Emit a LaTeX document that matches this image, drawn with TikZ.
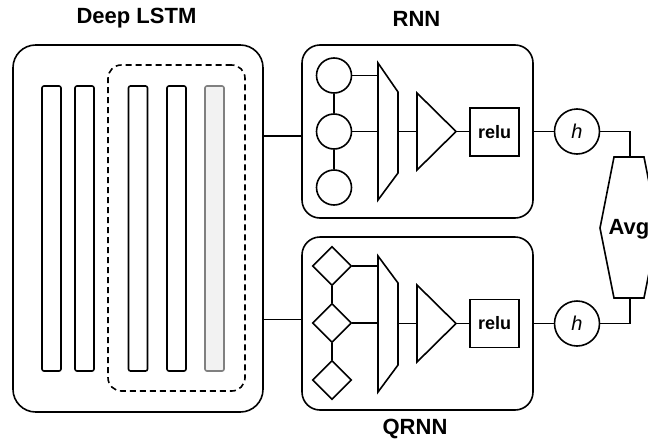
\documentclass[tikz,border=0pt]{standalone}
\usepackage{fontspec}
\setmainfont{Liberation Sans}
\usetikzlibrary{shapes.geometric}
\definecolor{barfill}{HTML}{F2F2F2}
\definecolor{bargray}{HTML}{808080}
\begin{document}
\begin{tikzpicture}[x=0.75pt,y=-0.75pt,line width=1.2pt,
  title/.style={font=\bfseries\fontsize{16.5pt}{18pt}\selectfont,inner sep=0pt},
  bigbox/.style={draw,rounded corners=13.5pt,minimum width=231*0.75pt,minimum height=173*0.75pt,inner sep=0pt},
  bar/.style={draw,rounded corners=1.5pt,minimum width=19*0.75pt,minimum height=285*0.75pt,inner sep=0pt},
  unit/.style={draw,circle,minimum size=35*0.75pt,inner sep=0pt},
  qunit/.style={draw,diamond,minimum width=39*0.75pt,minimum height=39*0.75pt,inner sep=0pt},
  relubox/.style={draw,minimum width=49*0.75pt,minimum height=48*0.75pt,inner sep=0pt,font=\bfseries\fontsize{13.5pt}{15pt}\selectfont},
  hnode/.style={draw,circle,minimum size=45*0.75pt,inner sep=0pt,font=\itshape\fontsize{15pt}{17pt}\selectfont},
  conn/.style={line width=1.2pt}]
\useasboundingbox (0,0) rectangle (648,439);
\clip (0,0) rectangle (648,439);
% titles
\node[title] (tl) at (136.5,18.5) {Deep LSTM};
\node[title] (tr) at (416.5,18.5) {RNN};
\node[title] (tq) at (415,429) {QRNN};
% Deep LSTM
\node[draw,rounded corners=17pt,minimum width=250*0.75pt,minimum height=367*0.75pt,inner sep=0pt] (lstm) at (138,228.5) {};
\node[draw,dashed,dash pattern=on 4.5pt off 3pt,rounded corners=10pt,minimum width=137*0.75pt,minimum height=326*0.75pt,inner sep=0pt] (grp) at (176.5,228) {};
\node[bar] (b1) at (51.5,228.5) {};
\node[bar] (b2) at (84.5,228.5) {};
\node[bar] (b3) at (138,228.5) {};
\node[bar] (b4) at (176.5,228.5) {};
\node[bar,draw=bargray,fill=barfill] (b5) at (214.5,228.5) {};
% RNN / QRNN boxes
\node[bigbox] (rnn) at (417.5,131.5) {};
\node[bigbox] (qrnn) at (417.5,323.5) {};
\coordinate (in1) at (0,136);
\coordinate (in2) at (0,319.5);
\draw[conn] (lstm.east |- in1) -- (rnn.west |- in1);
\draw[conn] (lstm.east |- in2) -- (qrnn.west |- in2);
% RNN internals
\node[unit] (c1) at (334,75.5) {};
\node[unit] (c2) at (334,131.5) {};
\node[unit] (c3) at (334,187.5) {};
\draw[conn] (c1) -- (c2);
\draw[conn] (c2) -- (c3);
\draw (378,63) -- (398,92) -- (398,173) -- (378,200) -- cycle;
\coordinate (m1a) at (378,75.5);
\coordinate (m1b) at (378,131.5);
\coordinate (m1o) at (398,131.5);
\draw[conn] (c1.east) -- (m1a);
\draw[conn] (c2.east) -- (m1b);
\draw (417,93) -- (417,170) -- (456,131.5) -- cycle;
\coordinate (t1i) at (417,131.5);
\coordinate (t1o) at (456,131.5);
\draw[conn] (m1o) -- (t1i);
\node[relubox] (r1) at (494.5,132) {relu};
\draw[conn] (t1o) -- (r1.west |- t1o);
% QRNN internals
\node[qunit] (d1) at (332,266) {};
\node[qunit] (d2) at (332,323) {};
\node[qunit] (d3) at (332,380) {};
\draw[conn] (d1.south) -- (d2.north);
\draw[conn] (d2.south) -- (d3.north);
\draw (378,256) -- (398,283) -- (398,365) -- (378,392) -- cycle;
\coordinate (m2a) at (378,266);
\coordinate (m2b) at (378,323);
\coordinate (m2o) at (398,323.5);
\draw[conn] (d1.east) -- (m2a);
\draw[conn] (d2.east) -- (m2b);
\draw (417,285) -- (417,362) -- (456,323.5) -- cycle;
\coordinate (t2i) at (417,323.5);
\coordinate (t2o) at (456,323.5);
\draw[conn] (m2o) -- (t2i);
\node[relubox] (r2) at (494.5,323.5) {relu};
\draw[conn] (t2o) -- (r2.west |- t2o);
% h nodes
\node[hnode] (h1) at (577,131.5) {h};
\node[hnode] (h2) at (577,323.5) {h};
\draw[conn] (rnn.east) -- (h1.west);
\draw[conn] (qrnn.east) -- (h2.west);
% Avg hexagon
\draw (600,228) -- (614,157) -- (644,157) -- (658,228) -- (644,298) -- (614,298) -- cycle;
\coordinate (avgt) at (630,157);
\coordinate (avgb) at (630,298);
\node[title] (avg) at (629,229) {Avg};
\draw[conn] (h1.east) -| (avgt);
\draw[conn] (h2.east) -| (avgb);
\end{tikzpicture}
\end{document}
